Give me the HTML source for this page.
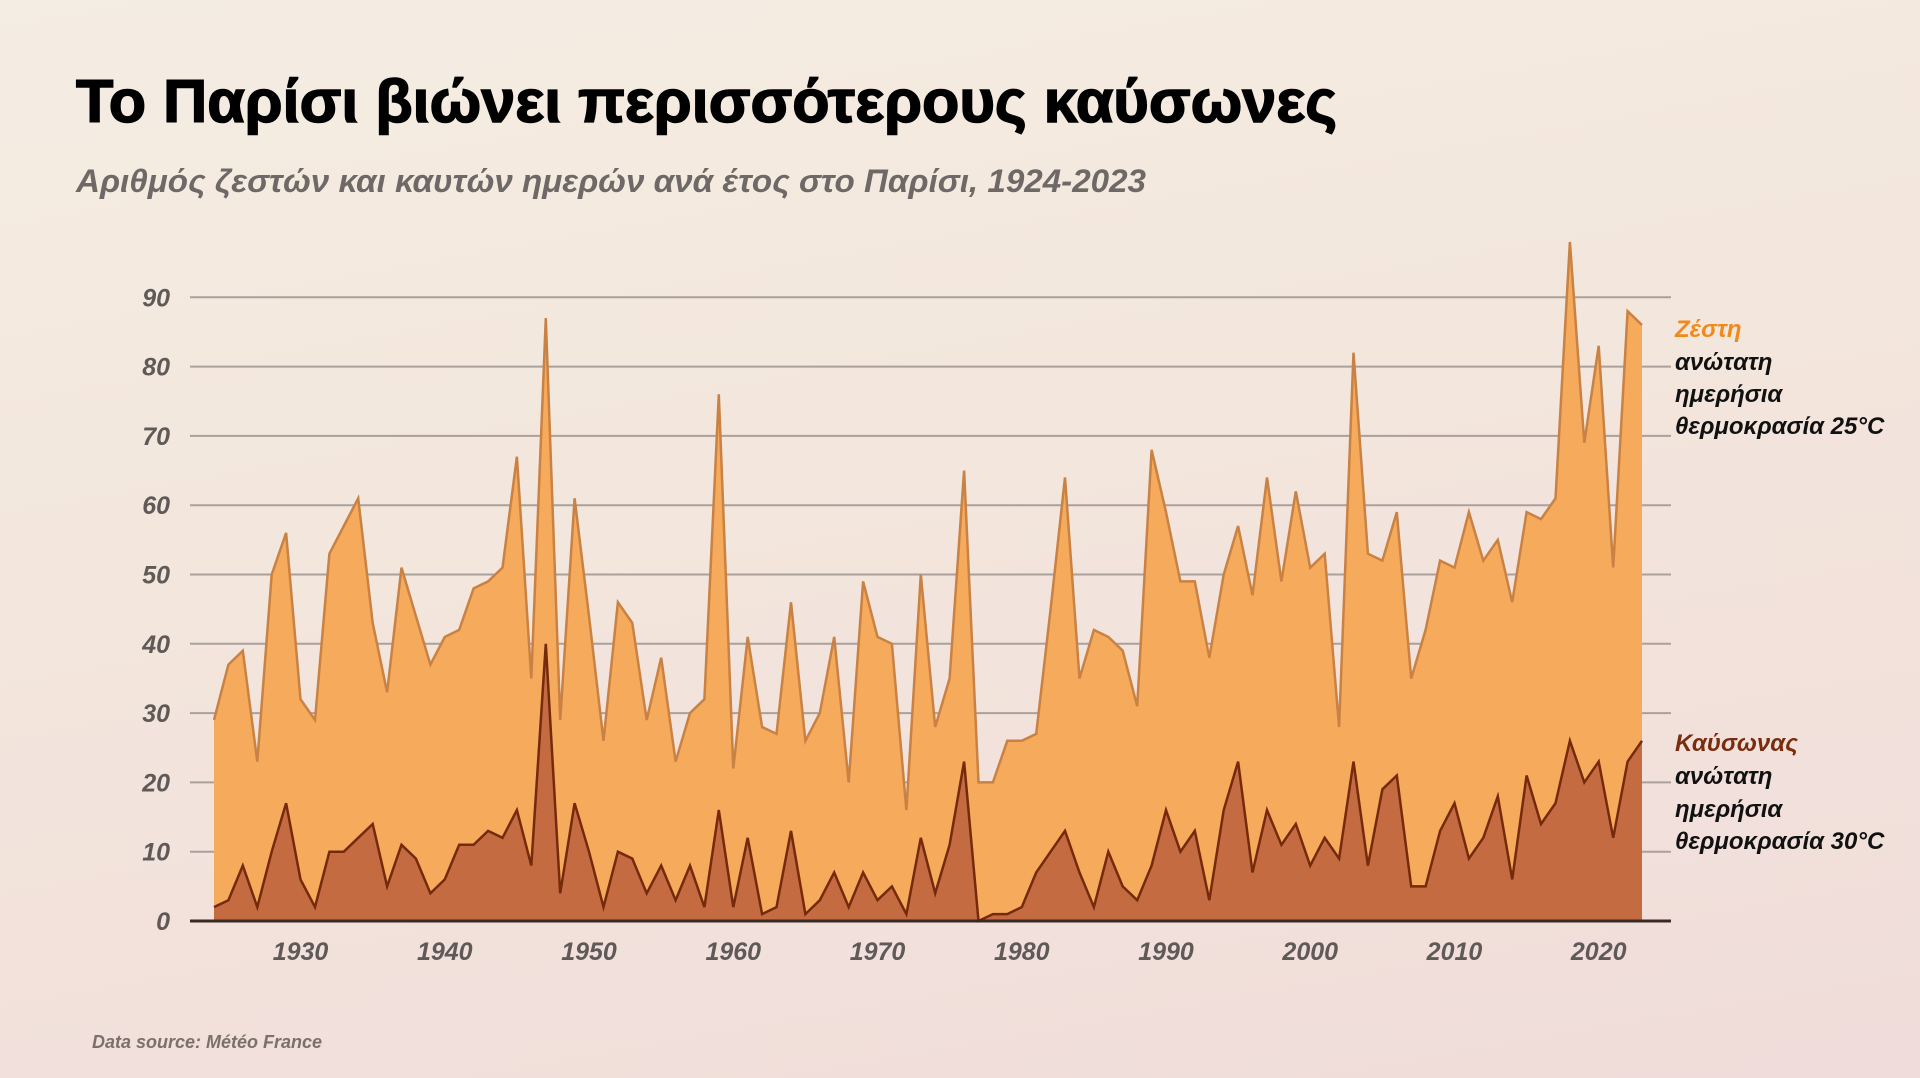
<!DOCTYPE html>
<html><head><meta charset="utf-8"><style>
html,body{margin:0;padding:0;}
body{width:1920px;height:1078px;overflow:hidden;background:linear-gradient(170deg,#f4ede3 0%,#f3e6dc 45%,#f0dcda 100%);}
svg{display:block;}
</style></head><body>
<svg id="chart" width="1920" height="1078" xmlns="http://www.w3.org/2000/svg" font-family="'Liberation Sans', 'DejaVu Sans', sans-serif">
<text x="76" y="122" font-size="60" font-weight="bold" fill="#000" stroke="#000" stroke-width="1.5" textLength="1261" lengthAdjust="spacingAndGlyphs">Το Παρίσι βιώνει περισσότερους καύσωνες</text>
<text x="76" y="192" font-size="32" font-weight="bold" font-style="italic" fill="#6e6866" textLength="1070" lengthAdjust="spacingAndGlyphs">Αριθμός ζεστών και καυτών ημερών ανά έτος στο Παρίσι, 1924-2023</text>
<g id="grid"></g>
<g id="areas"></g>
<g id="axes"></g>
<g font-size="24" font-style="italic" font-weight="bold">
<text x="1675" y="337" fill="#f08a1c">Ζέστη</text>
<text x="1675" y="370" fill="#111">ανώτατη</text>
<text x="1675" y="402" fill="#111">ημερήσια</text>
<text x="1675" y="434" fill="#111">θερμοκρασία 25°C</text>
<text x="1675" y="751" fill="#7a2d0e">Καύσωνας</text>
<text x="1675" y="784" fill="#111">ανώτατη</text>
<text x="1675" y="817" fill="#111">ημερήσια</text>
<text x="1675" y="849" fill="#111">θερμοκρασία 30°C</text>
</g>
<text x="92" y="1048" font-size="18" font-weight="bold" font-style="italic" fill="#7a716c">Data source: Météo France</text>
</svg>
<script>
const startYear = 1924;
const hotDays = [29,37,39,23,50,56,32,29,53,57,61,43,33,51,44,37,41,42,48,49,51,67,35,87,29,61,44,26,46,43,29,38,23,30,32,76,22,41,28,27,46,26,30,41,20,49,41,40,16,50,28,35,65,20,20,26,26,27,45,64,35,42,41,39,31,68,59,49,49,38,50,57,47,64,49,62,51,53,28,82,53,52,59,35,42,52,51,59,52,55,46,59,58,61,98,69,83,51,88,86];
const heatwaveDays = [2,3,8,2,10,17,6,2,10,10,12,14,5,11,9,4,6,11,11,13,12,16,8,40,4,17,10,2,10,9,4,8,3,8,2,16,2,12,1,2,13,1,3,7,2,7,3,5,1,12,4,11,23,0,1,1,2,7,10,13,7,2,10,5,3,8,16,10,13,3,16,23,7,16,11,14,8,12,9,23,8,19,21,5,5,13,17,9,12,18,6,21,14,17,26,20,23,12,23,26];
const yTicks = [0,10,20,30,40,50,60,70,80,90];
const xTicks = [1930,1940,1950,1960,1970,1980,1990,2000,2010,2020];

const NS = 'http://www.w3.org/2000/svg';
const X0 = 214, X1 = 1642, Y0 = 921, PER10 = 69.3;
function xs(yr){ return X0 + (yr - 1924) * (X1 - X0) / 99; }
function ys(v){ return Y0 - v * PER10 / 10; }
function mk(tag, attrs, parent){ const e = document.createElementNS(NS, tag); for (const k in attrs) e.setAttribute(k, attrs[k]); parent.appendChild(e); return e; }

const grid = document.getElementById('grid');
const axes = document.getElementById('axes');
yTicks.forEach(t => {
  if (t > 0) {
    const l = mk('line', {x1:190, x2:1671, y1:ys(t), y2:ys(t), stroke:'#aaa09c', 'stroke-width':2}, grid);
    
    
  }
  const tx = mk('text', {x:170, y:ys(t) + 9, 'text-anchor':'end', 'font-size':25, 'font-weight':'bold', 'font-style':'italic', fill:'#5f5a58'}, axes);
  tx.textContent = t;
  
  
});
xTicks.forEach(t => {
  const tx = mk('text', {x:xs(t), y:960, 'text-anchor':'middle', 'font-size':25, 'font-weight':'bold', 'font-style':'italic', fill:'#5f5a58'}, axes);
  tx.textContent = t;
  
  
});

const areas = document.getElementById('areas');
function areaPath(vals){
  let d = 'M' + xs(startYear) + ',' + Y0;
  vals.forEach((v, i) => { d += ' L' + xs(startYear + i).toFixed(1) + ',' + ys(v).toFixed(1); });
  d += ' L' + xs(startYear + vals.length - 1) + ',' + Y0 + ' Z';
  return d;
}
function linePath(vals){
  return vals.map((v, i) => (i ? 'L' : 'M') + xs(startYear + i).toFixed(1) + ',' + ys(v).toFixed(1)).join(' ');
}
const a1 = mk('path', {d:areaPath(hotDays), fill:'#f5aa5c'}, areas);


const l1 = mk('path', {d:linePath(hotDays), fill:'none', stroke:'#c98243', 'stroke-width':2.5, 'stroke-linejoin':'miter'}, areas);


const a2 = mk('path', {d:areaPath(heatwaveDays), fill:'#c56b41'}, areas);


const l2 = mk('path', {d:linePath(heatwaveDays), fill:'none', stroke:'#752a0c', 'stroke-width':2.5}, areas);


const base = mk('line', {x1:190, x2:1671, y1:Y0, y2:Y0, stroke:'#3a2a24', 'stroke-width':3}, areas);


</script>
</body></html>
